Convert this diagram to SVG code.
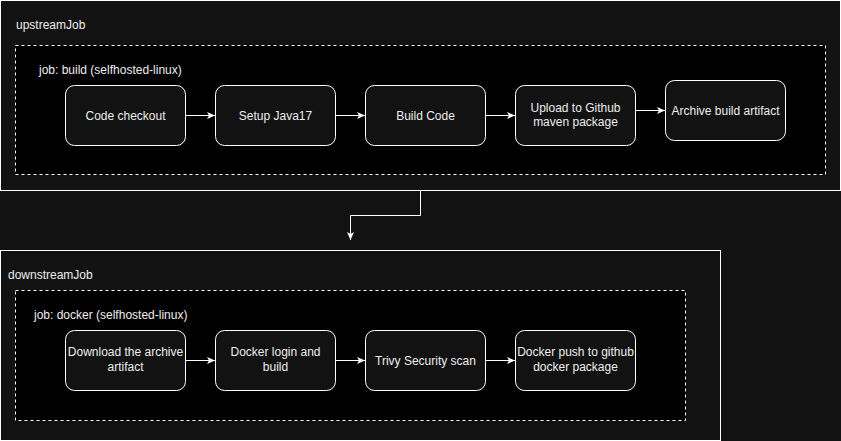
<svg xmlns="http://www.w3.org/2000/svg" width="841" height="441" viewBox="0 0 841 441">
<defs>
<style>
text{font-family:"Liberation Sans",Arial,sans-serif;font-size:12px;fill:#ededed}
.c{text-anchor:middle}
.outer{fill:#121212;stroke:#ffffff;stroke-width:1}
.dash{fill:#000000;stroke:#ffffff;stroke-width:1;stroke-dasharray:3 3}
.node rect{fill:#121212;stroke:#ffffff;stroke-width:1}
.edge{fill:none;stroke:#ffffff;stroke-width:1;marker-end:url(#arr)}
</style>
<marker id="arr" markerUnits="userSpaceOnUse" markerWidth="10" markerHeight="8" refX="8" refY="3.5" orient="auto">
<path d="M0,0 L8,3.5 L0,7 L2,3.5 z" fill="#ffffff"/>
</marker>
</defs>
<rect x="0" y="0" width="841" height="441" fill="#121212"/>

<g id="upstreamJob">
<rect class="outer" x="0.5" y="0.5" width="840" height="190"/>
<text x="16" y="29">upstreamJob</text>
</g>
<g id="buildJob">
<rect class="dash" x="15.5" y="45.5" width="810" height="129"/>
<text x="39" y="74">job: build (selfhosted-linux)</text>
</g>

<g id="downstreamJob">
<rect class="outer" x="0.5" y="250.5" width="720" height="190"/>
<text x="8" y="279">downstreamJob</text>
</g>
<g id="dockerJob">
<rect class="dash" x="15.5" y="290.5" width="670" height="130"/>
<text x="34" y="319">job: docker (selfhosted-linux)</text>
</g>

<g id="connectors">
<path class="edge" d="M185.5,115.5 H215"/>
<path class="edge" d="M335.5,115.5 H365"/>
<path class="edge" d="M485.5,115.5 H515"/>
<path class="edge" d="M635.5,110.5 H665"/>
<path class="edge" d="M185.5,360.5 H215"/>
<path class="edge" d="M335.5,360.5 H365"/>
<path class="edge" d="M485.5,360.5 H515"/>
<path class="edge" d="M420.5,190.5 V215.5 H350.5 V240"/>
</g>

<g id="codeCheckout" class="node">
<rect x="65.5" y="85.5" width="120" height="60" rx="9"/>
<text class="c" x="125.5" y="119.5">Code checkout</text>
</g>
<g id="setupJava" class="node">
<rect x="215.5" y="85.5" width="120" height="60" rx="9"/>
<text class="c" x="275.5" y="119.5">Setup Java17</text>
</g>
<g id="buildCode" class="node">
<rect x="365.5" y="85.5" width="120" height="60" rx="9"/>
<text class="c" x="425.5" y="119.5">Build Code</text>
</g>
<g id="upload" class="node">
<rect x="515.5" y="85.5" width="120" height="60" rx="9"/>
<text class="c" x="575.5" y="111.5">Upload to Github</text>
<text class="c" x="575.5" y="126">maven package</text>
</g>
<g id="archive" class="node">
<rect x="665.5" y="80.5" width="120" height="60" rx="9"/>
<text class="c" x="725.5" y="114.5">Archive build artifact</text>
</g>

<g id="download" class="node">
<rect x="65.5" y="330.5" width="120" height="60" rx="9"/>
<text class="c" x="125.5" y="356">Download the archive</text>
<text class="c" x="125.5" y="371">artifact</text>
</g>
<g id="dockerLogin" class="node">
<rect x="215.5" y="330.5" width="120" height="60" rx="9"/>
<text class="c" x="275.5" y="356">Docker login and</text>
<text class="c" x="275.5" y="371">build</text>
</g>
<g id="trivy" class="node">
<rect x="365.5" y="330.5" width="120" height="60" rx="9"/>
<text class="c" x="425.5" y="364.5">Trivy Security scan</text>
</g>
<g id="dockerPush" class="node">
<rect x="515.5" y="330.5" width="120" height="60" rx="9"/>
<text class="c" x="575.5" y="356">Docker push to github</text>
<text class="c" x="575.5" y="371">docker package</text>
</g>
</svg>
